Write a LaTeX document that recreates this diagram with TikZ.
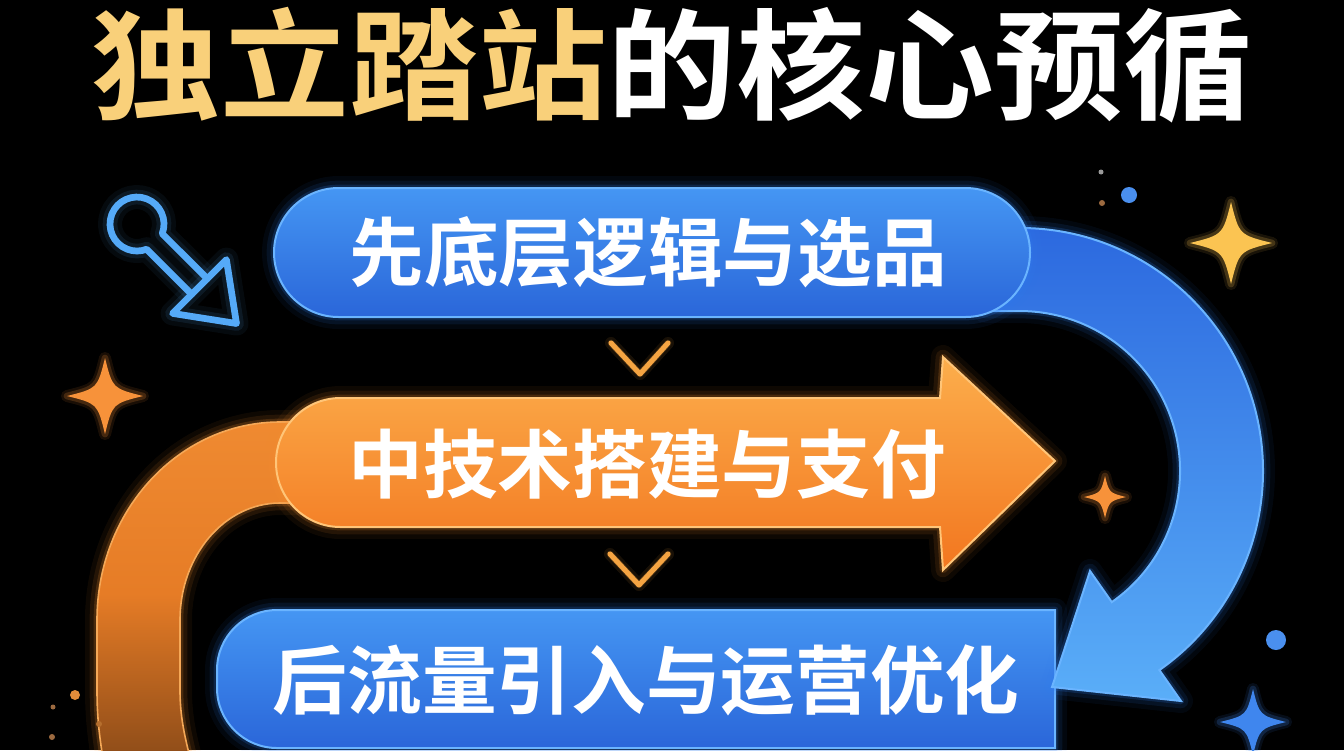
\documentclass[tikz,border=0pt]{standalone}
\usepackage{fontspec}
\newfontfamily\cjk{Noto Sans CJK SC}[BoldFont={Noto Sans CJK SC Bold}]
\definecolor{titley}{HTML}{F9D07A}
\definecolor{bluetop}{HTML}{4596F3}
\definecolor{bluebot}{HTML}{2A66D9}
\definecolor{blueedge}{HTML}{6AB4FF}
\definecolor{blueglow}{HTML}{2F7DF0}
\definecolor{arctop}{HTML}{2C69DF}
\definecolor{arcbot}{HTML}{5AAEF8}
\definecolor{ortop}{HTML}{FCAE4C}
\definecolor{orbot}{HTML}{F2761F}
\definecolor{oredge}{HTML}{FFC578}
\definecolor{orglow}{HTML}{F7902F}
\definecolor{bandtop}{HTML}{F8983C}
\definecolor{bandmid}{HTML}{E67C26}
\definecolor{banddark}{HTML}{8A4A18}
\definecolor{bandbot}{HTML}{24140A}
\definecolor{pinblue}{HTML}{55AAF8}
\definecolor{stary}{HTML}{FBC452}
\definecolor{staro}{HTML}{F7923A}
\definecolor{starb}{HTML}{3F86EE}
\definecolor{dotb}{HTML}{4A8FEE}
\definecolor{doto}{HTML}{E38B3A}
\definecolor{dotd}{HTML}{9C6A40}
\definecolor{dotg}{HTML}{9A9A9A}
\definecolor{chev}{HTML}{F5A442}
\pgfdeclareverticalshading{bandshade}{100bp}{color(0bp)=(bandbot); color(8bp)=(bandbot); color(25bp)=(banddark); color(50bp)=(bandmid); color(100bp)=(bandtop)}
\tikzset{
  glow/.style={preaction={draw=#1,line width=18pt,opacity=0.06,line join=round},
               preaction={draw=#1,line width=11pt,opacity=0.10,line join=round},
               preaction={draw=#1,line width=5pt,opacity=0.18,line join=round}},
  smallglow/.style={preaction={draw=#1,line width=9pt,opacity=0.10,line join=round,line cap=round},
               preaction={draw=#1,line width=5pt,opacity=0.2,line join=round,line cap=round}},
  boxtext/.style={text=white,font=\cjk\bfseries\fontsize{56}{60}\selectfont,inner sep=0pt},
  chevron/.style={draw=chev,line width=3.8pt,line cap=round,line join=round,smallglow=chev},
  pinline/.style={draw=pinblue,line width=5pt,line cap=round,line join=round,glow=pinblue},
  bluebox/.style={glow=blueglow,top color=bluetop,bottom color=bluebot,draw=blueedge,line width=1.5pt},
}
\newcommand\sparkle[4]{\fill[#4,smallglow=#4,shift={(#1,#2)},scale=#3] (0,-1) .. controls (0.2,-0.2) .. (1,0) .. controls (0.2,0.2) .. (0,1) .. controls (-0.2,0.2) .. (-1,0) .. controls (-0.2,-0.2) .. (0,-1) -- cycle;}
\begin{document}
\begin{tikzpicture}[x=0.75pt,y=-0.75pt]
\useasboundingbox (0,0) rectangle (1344,750);
\fill[black] (0,0) rectangle (1344,750);
\clip (0,0) rectangle (1344,750);

% title
\node[anchor=base,inner sep=0pt,font=\cjk\bfseries\fontsize{90}{94}\selectfont] (title) at (672,110) {\scalebox{1.075}[1]{\textcolor{titley}{独立踏站}\textcolor{white}{的核心预循}}};

% orange band (left)
\shade[glow=orglow,shading=bandshade,draw=oredge!60!bandmid,line width=1.2pt]
 (310,422) -- (280,422) arc[start angle=-90,end angle=-180,x radius=183,y radius=198] -- (97,690) .. controls (97,720) and (100,740) .. (104,765) -- (192,765) .. controls (184,735) and (180,715) .. (180,690) -- (180,620) arc[start angle=180,end angle=270,x radius=100,y radius=117] -- (310,503) -- cycle;

% bottom box
\shade[bluebox] (1055,610) -- (1055,748) -- (277,748) arc[start angle=90,end angle=180,radius=60] -- (217,670) arc[start angle=180,end angle=270,radius=60] -- cycle;

% blue curved arrow
\shade[glow=blueglow,top color=arctop,bottom color=arcbot,draw=blueedge,line width=1.5pt]
 (985,228) -- (1020,228) arc[start angle=-90,end angle=55,radius=243] -- (1181,701) -- (1052,687) -- (1090,571) -- (1111.8,602.1) arc[start angle=55,end angle=-90,radius=160] -- (985,311) -- cycle;

% top box
\shade[bluebox,rounded corners=48.4pt] (274,188) rectangle (1030,317);

% middle arrow box
\shade[glow=orglow,top color=ortop,bottom color=orbot,draw=oredge,line width=1.5pt]
 (340.5,398) -- (940,398) -- (943,357) -- (1055,461) -- (943,570) -- (940,527) -- (340.5,527) arc[start angle=90,end angle=270,radius=64.5] -- cycle;

% texts
\node[boxtext] (s1) at (648,252) {先底层逻辑与选品};
\node[boxtext] (s2) at (647,464) {中技术搭建与支付};
\node[boxtext] (s3) at (646,680) {后流量引入与运营优化};

% chevrons
\draw[chevron] (611,343) -- (640,374) -- (668,343);
\draw[chevron] (610,554) -- (639,585) -- (668,554);

% pin icon
\draw[pinline] (207.3,278.7) -- (162.2,233.7) arc[start angle=21,end angle=-291,radius=27] -- (191.7,294.3);
\draw[pinline] (226.4,259.6) -- (236.5,323.5) -- (172.6,313.4) -- cycle;

% sparkles
\sparkle{1231}{243}{41}{stary}
\sparkle{105}{396}{38}{staro}
\sparkle{1105}{497}{21}{staro}
\sparkle{1253}{722}{33}{starb}

% dots
\fill[dotb] (1129,195) circle[radius=8];
\fill[dotg] (1101,172) circle[radius=2.5];
\fill[dotd] (1102,203) circle[radius=3];
\fill[dotb] (1276,640) circle[radius=10];
\fill[doto] (75,695) circle[radius=5];
\fill[dotd] (53,707) circle[radius=2.5];
\fill[doto!80!black] (99,724) circle[radius=3];
\fill[dotd] (52,737) circle[radius=3];
\end{tikzpicture}
\end{document}
